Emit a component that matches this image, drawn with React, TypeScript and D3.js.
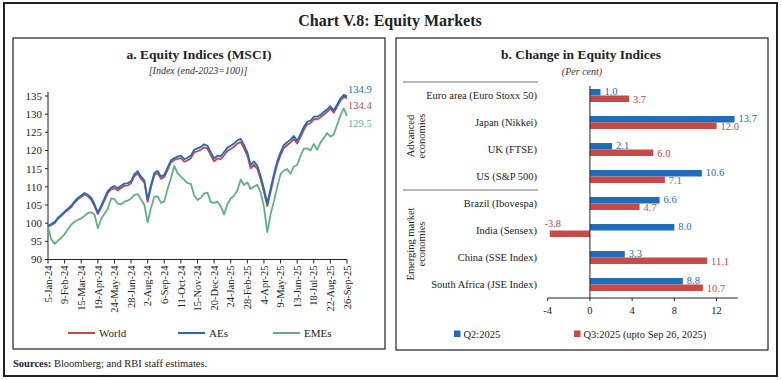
import React from 'react';
import * as d3 from 'd3';

const tickLabels = ["5-Jan-24","9-Feb-24","15-Mar-24","19-Apr-24","24-May-24","28-Jun-24","2-Aug-24","6-Sep-24","11-Oct-24","15-Nov-24","20-Dec-24","24-Jan-25","28-Feb-25","4-Apr-25","9-May-25","13-Jun-25","18-Jul-25","22-Aug-25","26-Sep-25"];
const yTicks = [90, 95, 100, 105, 110, 115, 120, 125, 130, 135];

const aes = [99.2, 99.8, 100.3, 101.5, 102.3, 103.2, 104.0, 104.8, 106.0, 107.0,
 107.6, 108.3, 107.8, 107.0, 105.2, 102.9, 104.8, 106.8, 108.8, 109.8,
 110.2, 109.6, 110.3, 110.9, 111.0, 111.6, 113.5, 114.3, 112.8, 111.8,
 106.5, 110.5, 113.8, 114.4, 112.8, 113.3, 115.3, 117.3, 117.9, 118.3,
 118.6, 117.6, 118.0, 118.6, 120.2, 120.6, 121.0, 121.7, 121.3, 119.5,
 117.8, 118.6, 118.4, 119.6, 120.8, 121.3, 121.9, 122.8, 123.2, 121.5,
 119.5, 116.0, 117.0, 115.8, 113.0, 109.5, 105.5, 109.5, 113.5, 117.0,
 119.5, 121.5, 122.3, 123.0, 124.0, 122.7, 124.5, 126.5, 127.9, 128.2,
 129.3, 129.3, 129.8, 130.6, 131.3, 132.2, 131.0, 132.6, 134.3, 135.3, 134.9];

const world = [99.0, 99.5, 100.0, 101.2, 102.0, 102.9, 103.6, 104.4, 105.6, 106.6,
 107.2, 107.9, 107.4, 106.5, 104.7, 102.5, 104.3, 106.3, 108.3, 109.3,
 109.6, 109.0, 109.7, 110.3, 110.4, 111.0, 112.9, 113.7, 112.2, 111.2,
 105.9, 109.9, 113.2, 113.8, 112.2, 112.7, 114.7, 116.7, 117.4, 117.7,
 117.9, 116.9, 117.3, 117.9, 119.5, 119.8, 120.2, 120.9, 120.5, 118.7,
 117.0, 117.8, 117.6, 118.7, 119.9, 120.4, 121.0, 121.9, 122.3, 120.6,
 118.6, 115.1, 116.1, 114.9, 112.1, 108.6, 104.7, 108.6, 112.6, 116.2,
 118.7, 120.7, 121.5, 122.2, 123.2, 121.9, 123.7, 125.7, 127.2, 127.5,
 128.6, 128.6, 129.1, 129.9, 130.6, 131.6, 130.4, 132.0, 133.7, 134.7, 134.4];

const emes = [99.0, 95.5, 94.3, 95.2, 96.0, 97.0, 98.3, 99.6, 100.4, 100.9,
 101.3, 102.0, 102.8, 103.0, 102.4, 98.6, 101.2, 102.6, 104.0, 106.8,
 106.6, 105.4, 105.2, 105.9, 106.2, 106.8, 107.8, 108.0, 106.6, 105.0,
 100.2, 104.2, 107.3, 107.4, 105.6, 106.0, 109.5, 112.3, 115.8, 113.8,
 112.8, 111.9, 111.0, 110.8, 107.6, 106.4, 107.0, 108.2, 108.4, 105.8,
 105.6, 105.9, 104.6, 102.4, 105.2, 106.8, 107.6, 109.0, 112.0, 110.5,
 111.2, 109.4, 110.0, 110.6, 108.5, 104.5, 97.5, 102.5, 106.0, 110.0,
 113.5, 114.5, 114.9, 113.6, 115.6, 116.0, 118.5, 120.5, 120.6, 120.0,
 121.8, 120.2, 122.2, 123.4, 124.8, 123.8, 124.4, 127.0, 129.6, 131.6, 129.5];

const categories = ["Euro area (Euro Stoxx 50)", "Japan (Nikkei)", "UK (FTSE)", "US (S&P 500)", "Brazil (Ibovespa)", "India (Sensex)", "China (SSE Index)", "South Africa (JSE Index)"];
const q2 = [1.0, 13.7, 2.1, 10.6, 6.6, 8.0, 3.3, 8.8];
const q3 = [3.7, 12.0, 6.0, 7.1, 4.7, -3.8, 11.1, 10.7];
const barTicks = [-4, 0, 4, 8, 12];

const RED = '#c9474a';
const BLUE = '#1f6cb8';
const GREEN = '#62b085';
const BAR_BLUE = '#1f6cb8';
const BAR_RED = '#c94848';
const FONT = '"Liberation Serif", "Times New Roman", serif';

export default function App() {
  const x = d3.scaleLinear().domain([0, aes.length - 1]).range([48, 347]);
  const y = d3.scaleLinear().domain([90, 135]).range([259.5, 96]);
  const line = d3.line<number>().x((_, i) => x(i)).y(d => y(d));
  const weeksPerTick = (aes.length - 1) / (tickLabels.length - 1);

  const bx = d3.scaleLinear().domain([-4, 14]).range([547.7, 737.7]);
  const by = d3.scaleBand<string>().domain(categories).range([82, 298]).paddingInner(0.52).paddingOuter(0.26);
  const sub = d3.scaleBand<string>().domain(['q2', 'q3']).range([0, by.bandwidth()]);

  return (
    <svg width={781} height={380} style={{ position: 'absolute', left: 0, top: 0, fontFamily: FONT }}>
      <rect x={0} y={0} width={781} height={380} fill="#fff" />
      <rect x={4} y={3} width={773} height={373} fill="none" stroke="#222" strokeWidth={2} />
      <text x={390} y={26} textAnchor="middle" fontSize={16} fontWeight="bold" fill="#222">Chart V.8: Equity Markets</text>

      {/* Left panel */}
      <rect x={13} y={38} width={372} height={311} fill="none" stroke="#222" strokeWidth={1.2} />
      <text x={199} y={59} textAnchor="middle" fontSize={13.5} fontWeight="bold" fill="#222">a. Equity Indices (MSCI)</text>
      <text x={198} y={74} textAnchor="middle" fontSize={10} fontStyle="italic" fill="#333">[Index (end-2023=100)]</text>

      <line x1={48} x2={48} y1={92} y2={y(90)} stroke="#222" strokeWidth={1} />
      {yTicks.map(t => (
        <g key={t}>
          <line x1={45} x2={48} y1={y(t)} y2={y(t)} stroke="#222" />
          <text x={42} y={y(t)} dy="0.35em" textAnchor="end" fontSize={11} fill="#222">{t}</text>
        </g>
      ))}
      <line x1={48} x2={347} y1={y(90)} y2={y(90)} stroke="#222" />
      {tickLabels.map((lab, k) => {
        const xx = x(k * weeksPerTick);
        return (
          <g key={lab}>
            <line x1={xx} x2={xx} y1={y(90)} y2={y(90) + 4} stroke="#222" />
            <text transform={`translate(${xx},${y(90) + 6}) rotate(-90)`} dy="0.35em" textAnchor="end" fontSize={10.5} fill="#222">{lab}</text>
          </g>
        );
      })}

      <path d={line(world) || ''} fill="none" stroke={RED} strokeWidth={1.8} strokeLinejoin="round" />
      <path d={line(aes) || ''} fill="none" stroke={BLUE} strokeWidth={1.8} strokeLinejoin="round" />
      <path d={line(emes) || ''} fill="none" stroke={GREEN} strokeWidth={1.8} strokeLinejoin="round" />

      <text x={348} y={89} dy="0.35em" fontSize={10.5} fill={BLUE}>{aes[aes.length - 1].toFixed(1)}</text>
      <text x={348} y={105} dy="0.35em" fontSize={10.5} fill={RED}>{world[world.length - 1].toFixed(1)}</text>
      <text x={348} y={123} dy="0.35em" fontSize={10.5} fill={GREEN}>{emes[emes.length - 1].toFixed(1)}</text>

      {[['World', RED, 68], ['AEs', BLUE, 178], ['EMEs', GREEN, 273]].map(([name, c, lx]) => (
        <g key={name as string}>
          <line x1={lx as number} x2={(lx as number) + 27} y1={333} y2={333} stroke={c as string} strokeWidth={2} />
          <text x={(lx as number) + 31} y={333} dy="0.35em" fontSize={11} fill="#222">{name}</text>
        </g>
      ))}

      <text x={13} y={363} dy="0.35em" fontSize={10.5} fill="#222"><tspan fontWeight="bold">Sources:</tspan> Bloomberg; and RBI staff estimates.</text>

      {/* Right panel */}
      <rect x={396} y={38} width={372} height={312} fill="none" stroke="#222" strokeWidth={1.2} />
      <text x={581} y={59} textAnchor="middle" fontSize={13.5} fontWeight="bold" fill="#222">b. Change in Equity Indices</text>
      <text x={582} y={75} textAnchor="middle" fontSize={10} fontStyle="italic" fill="#333">(Per cent)</text>

      <line x1={403} x2={538} y1={82} y2={82} stroke="#777" strokeWidth={1} />
      <line x1={403} x2={538} y1={190} y2={190} stroke="#777" strokeWidth={1} />

      <text transform="translate(410,136) rotate(-90)" textAnchor="middle" dy="0.35em" fontSize={10.5} fill="#222">Advanced</text>
      <text transform="translate(421,136) rotate(-90)" textAnchor="middle" dy="0.35em" fontSize={10.5} fill="#222">economies</text>
      <text transform="translate(410,244) rotate(-90)" textAnchor="middle" dy="0.35em" fontSize={10.5} fill="#222">Emerging market</text>
      <text transform="translate(421,244) rotate(-90)" textAnchor="middle" dy="0.35em" fontSize={10.5} fill="#222">economies</text>

      {categories.map((c, i) => {
        const y0 = by(c) as number;
        const bw = sub.bandwidth();
        const yb = y0 + (sub('q2') as number);
        const yr = y0 + (sub('q3') as number);
        const v2 = q2[i];
        const v3 = q3[i];
        return (
          <g key={c}>
            <text x={537} y={y0 + by.bandwidth() / 2} dy="0.35em" textAnchor="end" fontSize={10.5} fill="#222">{c}</text>
            <rect x={bx(Math.min(0, v2))} y={yb} width={Math.abs(bx(v2) - bx(0))} height={bw} fill={BAR_BLUE} />
            <rect x={bx(Math.min(0, v3))} y={yr} width={Math.abs(bx(v3) - bx(0))} height={bw} fill={BAR_RED} />
            <text x={bx(v2) + 4} y={yb + bw / 2 - 1} dy="0.35em" fontSize={10.5} fill={BAR_BLUE}>{v2.toFixed(1)}</text>
            {v3 >= 0 ? (
              <text x={bx(v3) + 4} y={yr + bw / 2 + 1} dy="0.35em" fontSize={10.5} fill={BAR_RED}>{v3.toFixed(1)}</text>
            ) : (
              <text x={bx(v3) + 3} y={yr - 7} dy="0.35em" textAnchor="middle" fontSize={10.5} fill={BAR_RED}>{v3.toFixed(1)}</text>
            )}
          </g>
        );
      })}

      <line x1={bx(0)} x2={bx(0)} y1={86} y2={298} stroke="#222" strokeWidth={1} />
      <line x1={bx(-4)} x2={bx(14)} y1={298} y2={298} stroke="#222" strokeWidth={1} />
      {barTicks.map(t => (
        <g key={t}>
          <line x1={bx(t)} x2={bx(t)} y1={298} y2={301} stroke="#222" />
          <text x={bx(t)} y={310} dy="0.35em" textAnchor="middle" fontSize={10.5} fill="#222">{t}</text>
        </g>
      ))}

      <rect x={454} y={330.5} width={6.5} height={6.5} fill={BAR_BLUE} />
      <text x={463.5} y={334} dy="0.35em" fontSize={10.5} fill="#222">Q2:2025</text>
      <rect x={574} y={330.5} width={6.5} height={6.5} fill={BAR_RED} />
      <text x={583.5} y={334} dy="0.35em" fontSize={10.5} fill="#222">Q3:2025 (upto Sep 26, 2025)</text>
    </svg>
  );
}
